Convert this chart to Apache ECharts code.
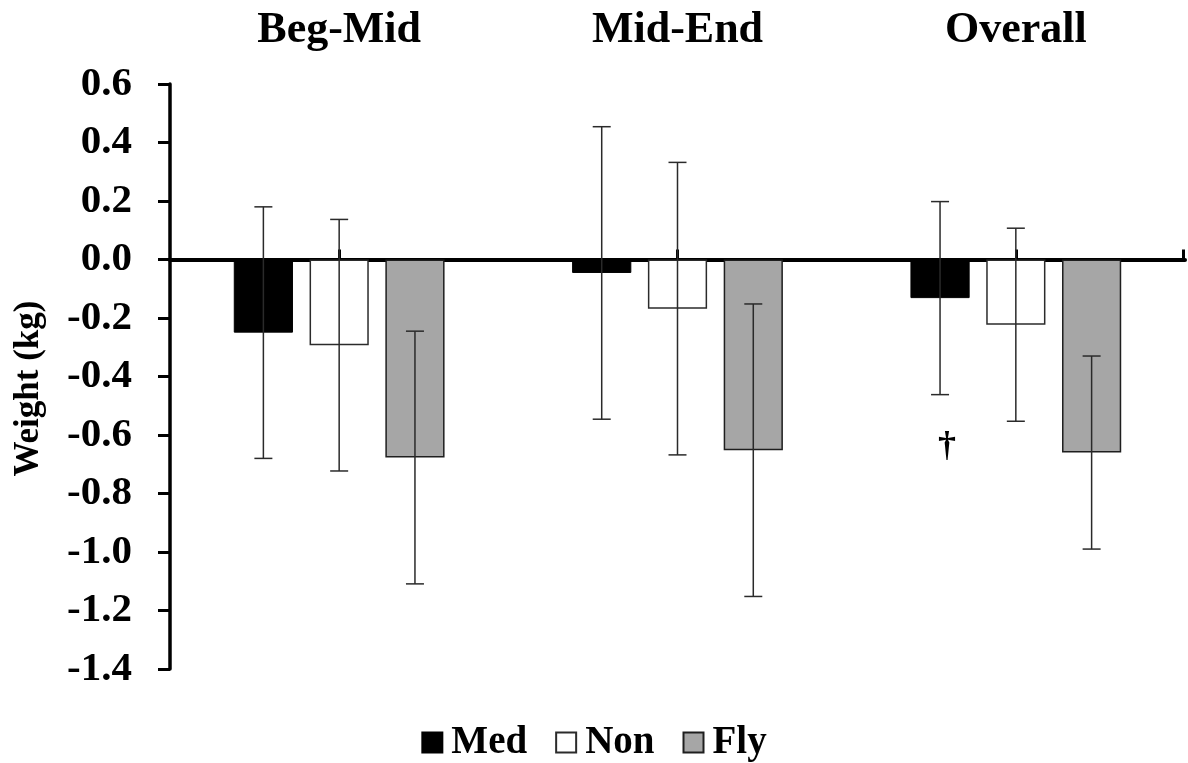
<!DOCTYPE html>
<html>
<head>
<meta charset="utf-8">
<title>Weight change</title>
<script src="https://cdn.jsdelivr.net/npm/echarts@6/dist/echarts.min.js"></script>
<style>
  html, body { margin: 0; padding: 0; background: #fff; }
  #chart { width: 1188px; height: 763px; }
</style>
</head>
<body>
<div id="chart"></div>
<script>
// Periods along the category axis
const periods = ['Beg-Mid', 'Mid-End', 'Overall'];

// Mean weight change (kg) per group
const medMeans = [-0.25, -0.046, -0.132];
const nonMeans = [-0.293, -0.168, -0.223];
const flyMeans = [-0.677, -0.652, -0.66];

// Standard deviations (kg) per group
const medSD = [0.43, 0.50, 0.33];
const nonSD = [0.43, 0.50, 0.33];
const flySD = [0.432, 0.50, 0.33];

// Significance marker under the Overall Med bar
const markText = '†';
const markPeriod = 2;
const markValue = -0.64;

// Value axis range
const yMin = -1.4, yMax = 0.6, yStep = 0.2;

const FONT = "'Liberation Serif', 'Times New Roman', serif";
const BAR_FRAC = 0.175;   // bar width as share of a category band
const GAP_FRAC = 0.28;    // gap between bars as share of bar width

const groups = [
  { name: 'Med', means: medMeans, sd: medSD, style: { color: '#000000', borderColor: '#000000', borderWidth: 1 } },
  { name: 'Non', means: nonMeans, sd: nonSD, style: { color: '#ffffff', borderColor: '#2b2b2b', borderWidth: 1.5 } },
  { name: 'Fly', means: flyMeans, sd: flySD, style: { color: '#a6a6a6', borderColor: '#1e1e1e', borderWidth: 1.5 } }
];

function groupOffset(api, idx) {
  const band = api.size([1, 0])[0];
  const bw = band * BAR_FRAC;
  return (idx - 1) * bw * (1 + GAP_FRAC);
}

function errorSeries(g, idx) {
  return {
    type: 'custom',
    name: g.name + ' SD',
    xAxisIndex: 0,
    yAxisIndex: 0,
    z: 5,
    silent: true,
    data: g.means.map((m, i) => [i, m - g.sd[i], m + g.sd[i]]),
    renderItem(params, api) {
      const dx = groupOffset(api, idx);
      const lo = api.coord([api.value(0), api.value(1)]);
      const hi = api.coord([api.value(0), api.value(2)]);
      const x = lo[0] + dx;
      const cap = 9;
      const st = { stroke: '#2a2a2a', lineWidth: 1.5 };
      return {
        type: 'group',
        children: [
          { type: 'line', shape: { x1: x, y1: hi[1], x2: x, y2: lo[1] }, style: st },
          { type: 'line', shape: { x1: x - cap, y1: hi[1], x2: x + cap, y2: hi[1] }, style: st },
          { type: 'line', shape: { x1: x - cap, y1: lo[1], x2: x + cap, y2: lo[1] }, style: st }
        ]
      };
    }
  };
}

const series = [];
groups.forEach(g => {
  series.push({
    type: 'bar',
    name: g.name,
    xAxisIndex: 0,
    yAxisIndex: 0,
    data: g.means,
    barWidth: (BAR_FRAC * 100) + '%',
    barGap: (GAP_FRAC * 100) + '%',
    itemStyle: g.style,
    z: 2
  });
});
groups.forEach((g, i) => series.push(errorSeries(g, i)));

// Significance dagger beside the Med error bar
series.push({
  type: 'custom',
  name: 'mark',
  xAxisIndex: 0,
  yAxisIndex: 0,
  silent: true,
  z: 6,
  data: [[markPeriod, markValue]],
  renderItem(params, api) {
    const p = api.coord([api.value(0), api.value(1)]);
    return {
      type: 'text',
      x: p[0] + groupOffset(api, 0) + 7,
      y: p[1],
      style: {
        text: markText, fill: '#000', font: 'bold 36px ' + FONT,
        align: 'center', verticalAlign: 'middle'
      }
    };
  }
});

// Closing tick at the right end of the zero line
series.push({
  type: 'custom',
  name: 'endTick',
  xAxisIndex: 0,
  yAxisIndex: 0,
  silent: true,
  z: 6,
  data: [[periods.length - 1, 0]],
  renderItem(params, api) {
    const p = api.coord([api.value(0), api.value(1)]);
    const x = p[0] + api.size([1, 0])[0] / 2 - 1.5;
    return {
      type: 'line',
      shape: { x1: x, y1: p[1], x2: x, y2: p[1] - 10 },
      style: { stroke: '#000', lineWidth: 3 }
    };
  }
});

const chart = echarts.init(document.getElementById('chart'), null, { renderer: 'canvas' });
chart.setOption({
  animation: false,
  backgroundColor: '#ffffff',
  textStyle: { fontFamily: FONT },
  grid: { left: 170, right: 3, top: 84, bottom: 94, containLabel: false },
  legend: {
    data: groups.map(g => g.name),
    top: 718,
    left: 'center',
    icon: 'rect',
    itemWidth: 20,
    itemHeight: 20,
    itemGap: 28,
    selectedMode: false,
    textStyle: { fontFamily: FONT, fontWeight: 'bold', fontSize: 39, color: '#000', padding: [0, 0, 0, 4] }
  },
  xAxis: [
    {
      type: 'category',
      data: periods,
      position: 'bottom',
      axisLine: { show: true, onZero: true, lineStyle: { color: '#000', width: 4 } },
      axisTick: { show: true, inside: true, alignWithLabel: true, length: 10, lineStyle: { color: '#000', width: 3 } },
      axisLabel: { show: false },
      splitLine: { show: false }
    },
    {
      type: 'category',
      data: periods,
      position: 'top',
      axisLine: { show: false, onZero: false },
      axisTick: { show: false },
      axisLabel: { show: true, margin: 31, color: '#000', fontFamily: FONT, fontWeight: 'bold', fontSize: 44 },
      splitLine: { show: false }
    }
  ],
  yAxis: {
    type: 'value',
    min: yMin,
    max: yMax,
    interval: yStep,
    name: 'Weight (kg)',
    nameLocation: 'middle',
    nameRotate: 90,
    nameGap: 124,
    nameTextStyle: { fontFamily: FONT, fontWeight: 'bold', fontSize: 35, color: '#000', padding: [0, 24, 0, 0] },
    axisLine: { show: true, onZero: false, lineStyle: { color: '#000', width: 3.5 } },
    axisTick: { show: true, inside: false, length: 12, lineStyle: { color: '#000', width: 3 } },
    axisLabel: {
      margin: 38, color: '#000', fontFamily: FONT, fontWeight: 'bold', fontSize: 41,
      formatter: v => v.toFixed(1)
    },
    splitLine: { show: false }
  },
  series: series
});
</script>
</body>
</html>
